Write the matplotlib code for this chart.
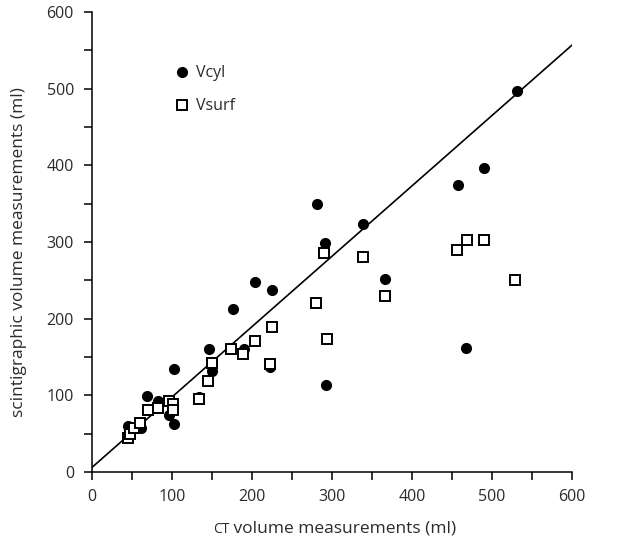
import matplotlib.pyplot as plt
from matplotlib.ticker import MultipleLocator
from matplotlib.offsetbox import TextArea, HPacker, AnchoredOffsetbox

plt.rcParams['font.family'] = ['Open Sans', 'DejaVu Sans']

# CT volume (x) vs scintigraphic volume (y), ml
cyl_x = [44.6, 46, 61, 69, 82.5, 96.6, 102, 102.5, 133.7, 146.7, 150.4, 175.8, 189.5,
         203.3, 222.5, 225, 281.6, 291.3, 292.5, 338.3, 366.7, 457, 467, 490.4, 530.8]
cyl_y = [60, 55, 58, 99, 92, 74, 62, 134, 98, 160, 132, 212, 160,
         248, 137, 237, 349, 299, 113, 324, 252, 375, 162, 397, 497]

surf_x = [45.4, 47.5, 52.9, 60, 69.6, 82, 96.6, 101.6, 101.6, 133.7, 145.4, 149.6, 174.3,
          189, 203.8, 222.5, 224.6, 280.4, 290.4, 293.3, 338.3, 366.7, 456.7, 468.3, 490, 528.8]
surf_y = [44, 50, 57, 64, 81, 84, 93, 89, 81, 95, 119, 142, 160,
          154, 171, 141, 189, 220, 285, 174, 280, 230, 290, 302, 303, 250]

# regression line
line_x = [0, 600]
line_y = [6, 6 + 0.918 * 600]

fig = plt.figure(figsize=(6.2, 5.42), dpi=100)
ax = fig.add_axes([92 / 620, 70 / 542, 480 / 620, 460 / 542])

txt = '#2b2b2b'
ax.plot(line_x, line_y, color='black', lw=1.2, zorder=2)
ax.plot(cyl_x, cyl_y, 'o', color='black', ms=7, zorder=3, label='Vcyl')
ax.plot(surf_x, surf_y, 's', mfc='white', mec='black', mew=1.4, ms=6.5, zorder=4, label='Vsurf')

ax.set_xlim(0, 600)
ax.set_ylim(0, 600)
ax.xaxis.set_major_locator(MultipleLocator(100))
ax.xaxis.set_minor_locator(MultipleLocator(50))
ax.yaxis.set_major_locator(MultipleLocator(100))
ax.yaxis.set_minor_locator(MultipleLocator(50))
ax.tick_params(which='both', direction='out', length=6, width=1.1, colors='black',
               labelcolor=txt, labelsize=11.5)
ax.tick_params(axis='x', pad=6)
ax.tick_params(axis='y', pad=7)
for s in ['top', 'right']:
    ax.spines[s].set_visible(False)
for s in ['left', 'bottom']:
    ax.spines[s].set_linewidth(1.1)

ax.set_ylabel('scintigraphic volume measurements (ml)', fontsize=12.5, color=txt)
ax.yaxis.set_label_coords(-0.135, 0.478)

# x label with small-caps "CT"
xl = HPacker(children=[TextArea('CT', textprops=dict(fontsize=10, color=txt)),
                       TextArea(' volume measurements (ml)', textprops=dict(fontsize=12.5, color=txt))],
             align='baseline', pad=0, sep=0)
box = AnchoredOffsetbox(loc='center', child=xl, frameon=False,
                        bbox_to_anchor=(0.505, -0.123), bbox_transform=ax.transAxes, borderpad=0)
ax.add_artist(box)

leg = ax.legend(loc='upper left', bbox_to_anchor=(0.138, 0.915), frameon=False, fontsize=11.5,
                handletextpad=0.25, labelspacing=1.05, handlelength=1.2, numpoints=1)
for t in leg.get_texts():
    t.set_color(txt)

fig.savefig('out.png', dpi=100)
